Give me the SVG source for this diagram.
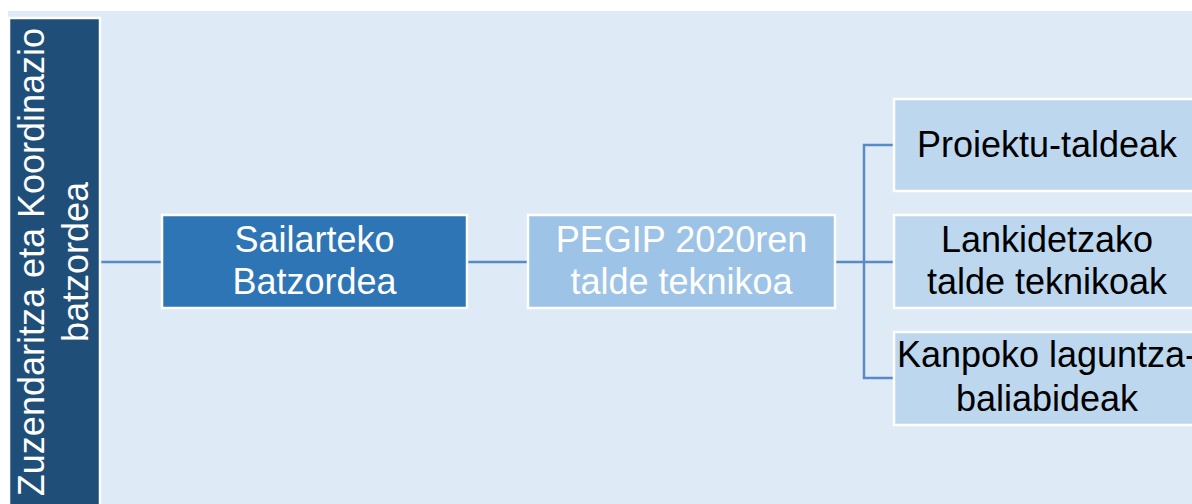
<svg xmlns="http://www.w3.org/2000/svg" width="1192" height="504" viewBox="0 0 1192 504">
<style>
.t{font-family:"Liberation Sans",Arial,sans-serif;font-size:36px;text-anchor:middle}
.w{fill:#ffffff}
.k{fill:#000000}
.box{stroke:#ffffff;stroke-width:2.5}
.c{fill:none;stroke:#5a8ac6;stroke-width:2.5}
</style>
<rect x="8" y="11" width="1184" height="493" fill="#deeaf6"/>
<g id="connectors">
<line class="c" x1="100" y1="262" x2="162" y2="262"/>
<line class="c" x1="467" y1="262" x2="528" y2="262"/>
<line class="c" x1="835" y1="262" x2="894" y2="262"/>
<polyline class="c" points="894,145 864,145 864,378 894,378"/>
</g>
<g id="node-zuzendaritza">
<rect class="box" x="9" y="18" width="91" height="490" fill="#1f4e79"/>
<text class="t w" transform="translate(44,262) rotate(-90)"><tspan x="0" y="0">Zuzendaritza eta Koordinazio</tspan><tspan x="0" y="44">batzordea</tspan></text>
</g>
<g id="node-sailarteko">
<rect class="box" x="162" y="215" width="305" height="93" fill="#2e75b6"/>
<text class="t w"><tspan x="314.5" y="252">Sailarteko</tspan><tspan x="314.5" y="294">Batzordea</tspan></text>
</g>
<g id="node-pegip">
<rect class="box" x="528" y="215" width="307" height="93" fill="#9dc3e6"/>
<text class="t w"><tspan x="681.5" y="252">PEGIP 2020ren</tspan><tspan x="681.5" y="294">talde teknikoa</tspan></text>
</g>
<g id="node-proiektu">
<rect class="box" x="894" y="99" width="308" height="92" fill="#bdd7ee"/>
<text class="t k" x="1047" y="157">Proiektu-taldeak</text>
</g>
<g id="node-lankidetzako">
<rect class="box" x="894" y="215" width="308" height="93" fill="#bdd7ee"/>
<text class="t k"><tspan x="1047" y="252">Lankidetzako</tspan><tspan x="1047" y="294">talde teknikoak</tspan></text>
</g>
<g id="node-kanpoko">
<rect class="box" x="894" y="332" width="308" height="93" fill="#bdd7ee"/>
<text class="t k"><tspan x="1047" y="367">Kanpoko laguntza-</tspan><tspan x="1047" y="411">baliabideak</tspan></text>
</g>
</svg>
